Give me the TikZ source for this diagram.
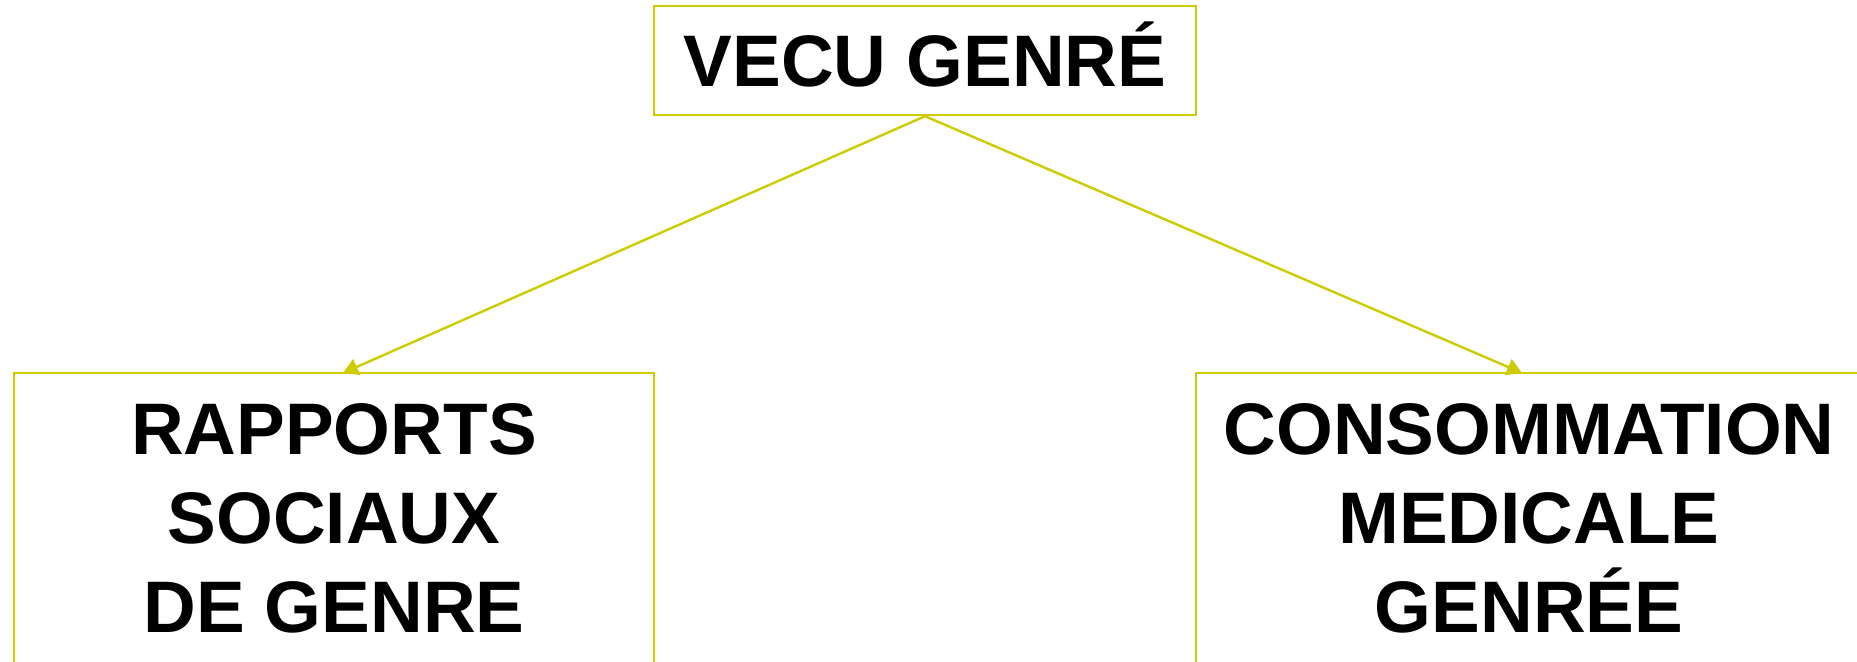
\documentclass[tikz,border=0pt]{standalone}
\usepackage{fontspec}
\setmainfont{Liberation Sans}
\usetikzlibrary{arrows.meta}
\definecolor{olive}{RGB}{204,204,0}
\tikzset{
  box/.style={draw=olive, line width=1.2pt, rectangle, inner sep=0pt, align=center,
    font=\bfseries\fontsize{36.5}{44.5}\selectfont},
  arr/.style={draw=olive, line width=1.2pt, -{Triangle[length=7.5pt,width=8.5pt]}}
}
\begin{document}
\begin{tikzpicture}[x=0.5pt,y=-0.5pt]
\clip (0,0) rectangle (1857,662);
\fill[white] (0,0) rectangle (1857,662);
\node[box, minimum width=271pt, minimum height=54.5pt, text height=26pt, text depth=0pt] (top) at (925,60.5) {VECU GENRÉ};
\node[box, minimum width=320pt, minimum height=145.5pt] (left) at (334,518.5) {RAPPORTS\\SOCIAUX\\DE GENRE};
\node[box, minimum width=333pt, minimum height=145.5pt] (right) at (1529,518.5) {CONSOMMATION\\MEDICALE\\GENRÉE};
\coordinate (lt) at (343,373);
\coordinate (rt) at (1522,373);
\draw[arr] (top.south) -- (lt);
\draw[arr] (top.south) -- (rt);
\end{tikzpicture}
\end{document}
